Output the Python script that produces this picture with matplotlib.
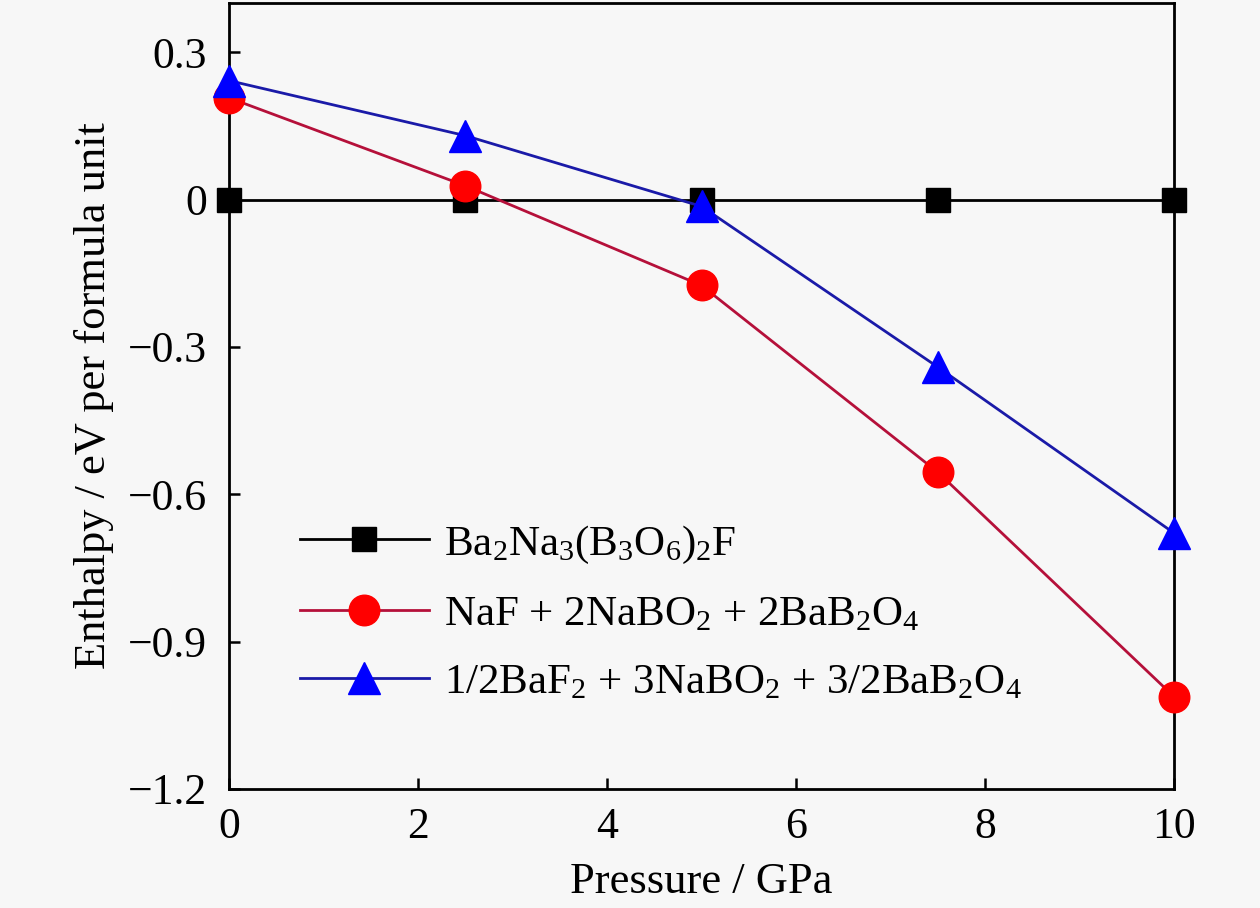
import matplotlib
matplotlib.use("Agg")
import matplotlib.pyplot as plt

pressure = [0, 2.5, 5, 7.5, 10]
ba2na3 = [0, 0, 0, 0, 0]
naf_mix = [0.207, 0.028, -0.175, -0.555, -1.012]
baf2_mix = [0.242, 0.130, -0.014, -0.341, -0.679]

labels = [
    r'Ba$\mathregular{_2}$Na$\mathregular{_3}$(B$\mathregular{_3}$O$\mathregular{_6}$)$\mathregular{_2}$F',
    r'NaF + 2NaBO$\mathregular{_2}$ + 2BaB$\mathregular{_2}$O$\mathregular{_4}$',
    r'1/2BaF$\mathregular{_2}$ + 3NaBO$\mathregular{_2}$ + 3/2BaB$\mathregular{_2}$O$\mathregular{_4}$',
]
xticks = [0, 2, 4, 6, 8, 10]
yticks = [-1.2, -0.9, -0.6, -0.3, 0, 0.3]
yticklabels = ['\u22121.2', '\u22120.9', '\u22120.6', '\u22120.3', '0', '0.3']

plt.rcParams['font.family'] = ['Liberation Serif', 'DejaVu Serif']
plt.rcParams['mathtext.fontset'] = 'custom'
plt.rcParams['mathtext.rm'] = 'Liberation Serif'
plt.rcParams['mathtext.it'] = 'Liberation Serif:italic'

bg = '#f7f7f7'
fig = plt.figure(figsize=(12.6, 9.08), dpi=100, facecolor=bg)
ax = fig.add_axes([229/1260, 1 - 789/908, (1174-229)/1260, (789-3)/908])
ax.set_facecolor(bg)

ax.plot(pressure, ba2na3, color='black', lw=2.0, marker='s', ms=17,
        mfc='black', mec='black', label=labels[0], zorder=3)
ax.plot(pressure, naf_mix, color='#b5103a', lw=2.0, marker='o', ms=22,
        mfc='#ff0000', mec='#ff0000', label=labels[1], zorder=4)
ax.plot(pressure, baf2_mix, color='#1a1aa8', lw=2.0, marker='^', ms=23,
        mfc='#0000ff', mec='#0000ff', label=labels[2], zorder=5)

ax.set_xlim(0, 10)
ax.set_ylim(-1.2, 0.4)
ax.set_xticks(xticks)
ax.set_xticklabels([str(t) for t in xticks])
ax.set_yticks(yticks)
ax.set_yticklabels(yticklabels)
ax.tick_params(direction='in', length=8, width=1.8, labelsize=31.5)
ax.tick_params(axis='y', pad=16)
ax.tick_params(axis='x', pad=13)
for s in ax.spines.values():
    s.set_linewidth(2.0)
    s.set_clip_on(False)

ax.set_xlabel('Pressure / GPa', fontsize=32, labelpad=11)
ax.set_ylabel('Enthalpy / eV per formula unit', fontsize=32, labelpad=10)

leg = ax.legend(loc='center left', bbox_to_anchor=(0.075, 0.224), frameon=False,
                fontsize=31, borderpad=0, borderaxespad=0, handlelength=3.0,
                handletextpad=0.35, labelspacing=0.68)

for line in ax.get_lines():
    line.set_clip_on(False)

fig.savefig('out.png', dpi=100, facecolor=bg)
